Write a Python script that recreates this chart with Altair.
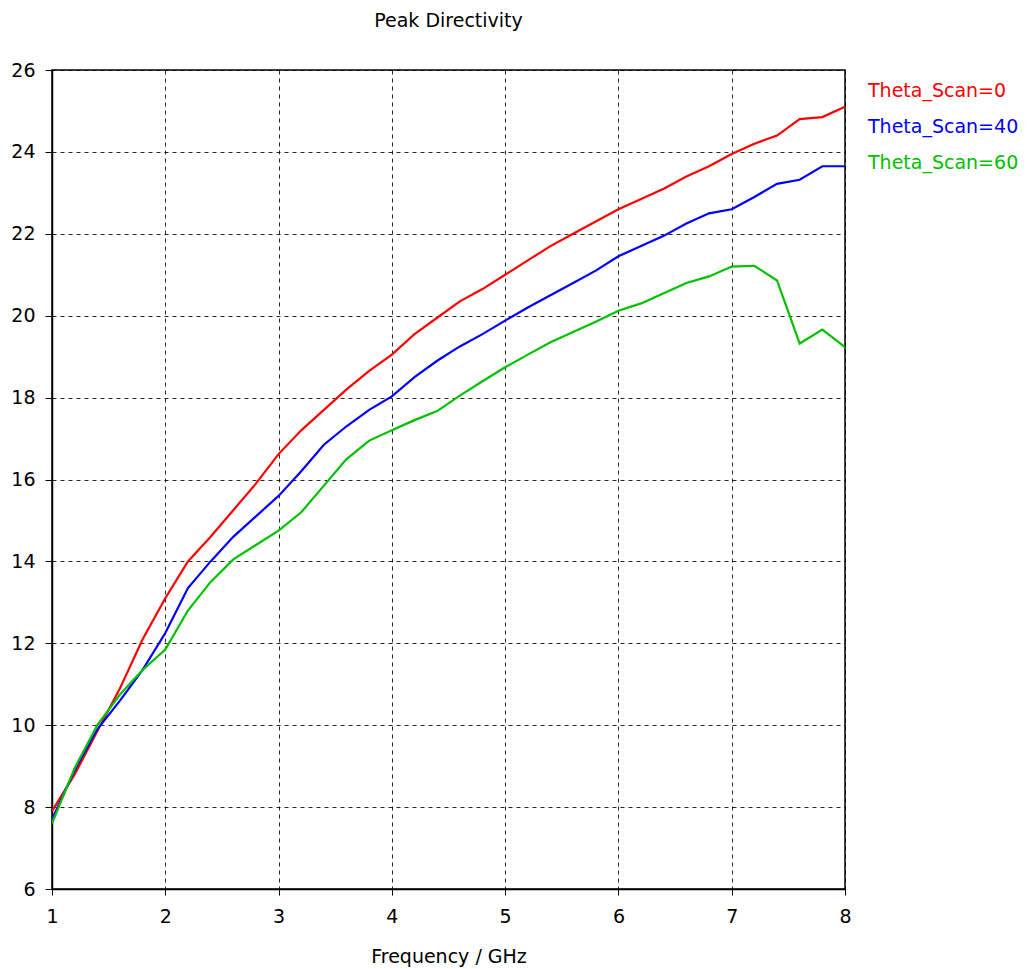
import altair as alt
import pandas as pd

freq = [1.0, 1.2, 1.4, 1.6, 1.8, 2.0, 2.2, 2.4, 2.6, 2.8, 3.0, 3.2, 3.4, 3.6, 3.8,
        4.0, 4.2, 4.4, 4.6, 4.8, 5.0, 5.2, 5.4, 5.6, 5.8, 6.0, 6.2, 6.4, 6.6, 6.8,
        7.0, 7.2, 7.4, 7.6, 7.8, 8.0]

theta0 = [7.9, 8.8, 9.85, 10.9, 12.1, 13.1, 14.0, 14.6, 15.25, 15.9, 16.62, 17.2, 17.7,
          18.2, 18.65, 19.05, 19.55, 19.95, 20.35, 20.65, 21.0, 21.35, 21.7, 22.0,
          22.3, 22.6, 22.85, 23.1, 23.4, 23.65, 23.95, 24.2, 24.4, 24.8, 24.85, 25.1]

theta40 = [7.7, 8.9, 9.9, 10.6, 11.35, 12.25, 13.35, 14.0, 14.6, 15.1, 15.6, 16.2, 16.85,
           17.3, 17.7, 18.03, 18.5, 18.9, 19.25, 19.55, 19.88, 20.2, 20.5, 20.8,
           21.1, 21.45, 21.7, 21.95, 22.25, 22.5, 22.6, 22.9, 23.22, 23.32, 23.65, 23.65]

theta60 = [7.6, 8.95, 10.0, 10.75, 11.35, 11.85, 12.8, 13.5, 14.05, 14.4, 14.75, 15.2,
           15.85, 16.5, 16.95, 17.2, 17.45, 17.67, 18.05, 18.4, 18.74, 19.05, 19.35,
           19.6, 19.85, 20.12, 20.3, 20.55, 20.8, 20.96, 21.2, 21.22, 20.86, 19.32,
           19.66, 19.23]

series_names = ["Theta_Scan=0", "Theta_Scan=40", "Theta_Scan=60"]
series_colors = ["#ff0000", "#0000ff", "#00c000"]
series_values = [theta0, theta40, theta60]

x_ticks = [1, 2, 3, 4, 5, 6, 7, 8]
y_ticks = [6, 8, 10, 12, 14, 16, 18, 20, 22, 24, 26]

rows = []
for name, vals in zip(series_names, series_values):
    for f, v in zip(freq, vals):
        rows.append({"Frequency": f, "Directivity": v, "Series": name})
df = pd.DataFrame(rows)

FONT = "DejaVu Sans"
W, H = 793, 819

lines = alt.Chart(df).mark_line(strokeWidth=2.2, clip=True).encode(
    x=alt.X("Frequency:Q",
            scale=alt.Scale(domain=[1, 8], nice=False, zero=False),
            axis=alt.Axis(values=x_ticks, title="Frequency / GHz", format="d",
                          grid=True, gridDash=[4, 4], gridColor="#000000",
                          gridOpacity=0.85, tickSize=6, tickColor="#000000",
                          domainColor="#000000", domainWidth=1.5,
                          labelPadding=12, titlePadding=21, labelFlush=False,
                          labelFont=FONT, labelFontSize=19, labelColor="#000000",
                          titleFont=FONT, titleFontSize=19, titleFontWeight="normal",
                          titleColor="#000000")),
    y=alt.Y("Directivity:Q",
            scale=alt.Scale(domain=[6, 26], nice=False, zero=False),
            axis=alt.Axis(values=y_ticks, title=None, format="d",
                          grid=True, gridDash=[4, 4], gridColor="#000000",
                          gridOpacity=0.85, tickSize=7, tickColor="#000000",
                          domainColor="#000000", domainWidth=1.5, labelFlush=False,
                          labelPadding=10, labelFont=FONT, labelFontSize=19,
                          labelColor="#000000")),
    color=alt.Color("Series:N",
                    scale=alt.Scale(domain=series_names, range=series_colors),
                    legend=None),
    detail="Series:N",
)

legend_layers = []
for i, (name, col) in enumerate(zip(series_names, series_colors)):
    legend_layers.append(
        alt.Chart(pd.DataFrame({"label": [name]})).mark_text(
            align="left", baseline="middle", font=FONT, fontSize=19,
            color=col, x=816, y=21 + 36 * i
        ).encode(text="label:N")
    )

chart = alt.layer(lines, *legend_layers).properties(
    width=W, height=H,
    title=alt.TitleParams("Peak Directivity", font=FONT, fontSize=19,
                          fontWeight="normal", color="#000000", offset=30,
                          anchor="middle"),
    autosize=alt.AutoSizeParams(type="none"),
    padding={"left": 52, "top": 70, "right": 188, "bottom": 80},
).configure_view(stroke="#000000", strokeWidth=1.5)

chart.save("out.html", embed_options={"renderer": "svg", "actions": False})
